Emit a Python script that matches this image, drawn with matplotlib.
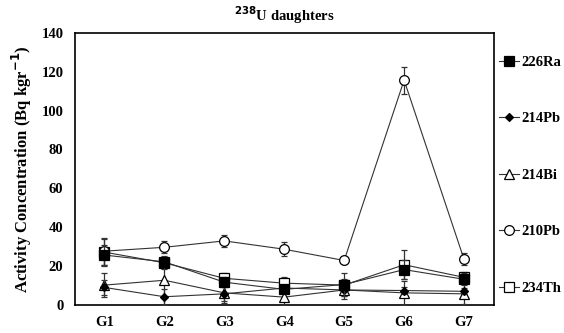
import matplotlib
matplotlib.use("Agg")
import matplotlib.pyplot as plt
import numpy as np
from matplotlib.lines import Line2D

plt.rcParams['font.family'] = ['Liberation Serif', 'DejaVu Serif']

groups = ["G1", "G2", "G3", "G4", "G5", "G6", "G7"]
series_names = ["226Ra", "214Pb", "214Bi", "210Pb", "234Th"]
ra226 = [25.5, 22.0, 11.5, 7.8, 10.3, 18.0, 13.0]
ra226_err = [5.0, 2.0, 2.5, 2.0, 6.0, 5.0, 3.0]
pb214 = [8.8, 4.0, 5.5, 8.5, 7.5, 7.2, 6.8]
pb214_err = [4.0, 4.0, 3.5, 1.5, 4.5, 2.0, 1.5]
bi214 = [10.0, 12.5, 6.0, 3.8, 7.5, 6.0, 5.5]
bi214_err = [6.0, 12.5, 5.0, 3.8, 3.0, 6.0, 5.0]
pb210 = [27.5, 29.5, 32.8, 28.5, 22.7, 115.7, 23.3]
pb210_err = [7.0, 3.0, 3.0, 3.5, 2.0, 7.0, 3.0]
th234 = [27.0, 21.5, 13.5, 11.0, 10.0, 20.5, 14.0]
th234_err = [7.0, 3.0, 3.0, 3.0, 3.0, 7.5, 3.0]

values = [ra226, pb214, bi214, pb210, th234]
errors = [ra226_err, pb214_err, bi214_err, pb210_err, th234_err]
markers = ['s', 'D', '^', 'o', 's']
mfaces = ['black', 'black', 'white', 'white', 'white']
msizes = [7, 4.5, 6.5, 7, 7]
zorders = [6, 5, 3, 4, 2]

fig = plt.figure(figsize=(5.64, 3.33), dpi=100)
ax = fig.add_axes([74.5/564, 1 - 304.5/333, (494 - 74.5)/564, (304.5 - 33)/333])

x = np.arange(1, len(groups) + 1)
for name, v, e, m, fc, ms, z in zip(series_names, values, errors, markers, mfaces, msizes, zorders):
    ax.errorbar(x, v, yerr=e, marker=m, ms=ms, mfc=fc, mec='black', mew=0.9,
                color='#333333', lw=0.8, ecolor='#333333', elinewidth=0.9,
                capsize=2, capthick=0.9, label=name, zorder=z)

ax.set_xlim(0.5, 7.5)
ax.set_ylim(0, 140)
ax.set_yticks(np.arange(0, 141, 20))
ax.set_xticks(x)
ax.set_xticklabels(groups)
ax.tick_params(length=0, labelsize=10.5, pad=8)
for lbl in ax.get_xticklabels() + ax.get_yticklabels():
    lbl.set_fontweight('bold')
for sp in ax.spines.values():
    sp.set_linewidth(1.2)

ax.set_ylabel("Activity Concentration (Bq kgr$^{\\mathbf{-1}}$)", fontsize=12,
              fontweight='bold', labelpad=5)
ax.set_title("$^{\\mathbf{238}}$U daughters", fontsize=10.5, fontweight='bold', pad=9)

leg_handles = [Line2D([0], [0], color='#333333', lw=0.8, marker=m, ms=ms, mfc=fc,
                      mec='black', mew=0.9) for m, fc, ms in zip(markers, mfaces, msizes)]
leg = fig.legend(leg_handles, series_names, loc='upper left',
                 bbox_to_anchor=(496/564, 1 - 53/333), frameon=False,
                 prop={'weight': 'bold', 'size': 10.5}, labelspacing=2.96,
                 handlelength=1.4, handletextpad=0.15, borderpad=0.2,
                 borderaxespad=0)

fig.savefig("out.png", dpi=100)
